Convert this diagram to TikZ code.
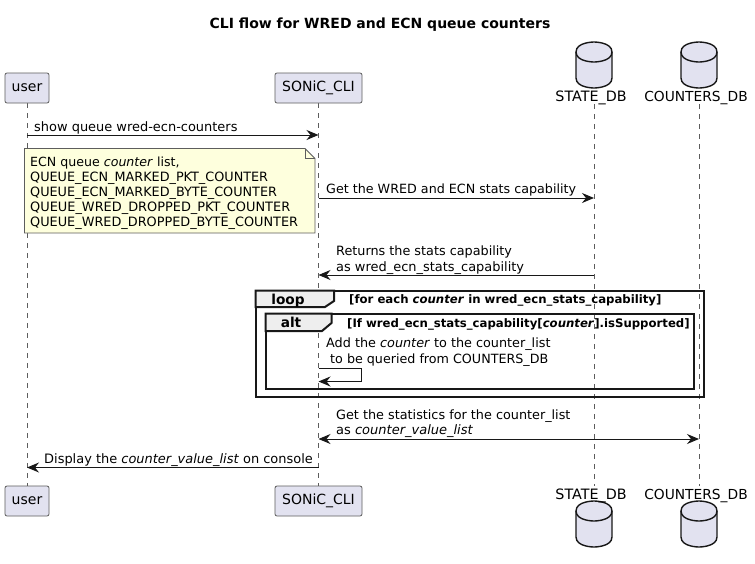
\documentclass[tikz,border=0pt]{standalone}
\usepackage{fontspec}
\setmainfont{DejaVu Sans}
\usetikzlibrary{arrows.meta}
\definecolor{pbox}{HTML}{E2E2F0}
\definecolor{pline}{HTML}{181818}
\definecolor{pnote}{HTML}{FEFFDD}
\definecolor{pgroup}{HTML}{EEEEEE}
\tikzset{
  fs/.style={font=\fontsize{#1}{15}\selectfont},
  actorbox/.style={draw=pline!70,line width=.8pt,fill=pbox,rounded corners=2pt,minimum height=30pt,inner sep=0pt,fs=14},
  dbshape/.style={draw=pline,line width=1.4pt,fill=pbox},
  dblabel/.style={inner sep=0pt,anchor=base},
  lifeline/.style={draw=pline!70,line width=.6pt,dash pattern=on 5pt off 5pt},
  msg/.style={draw=pline,line width=1pt,-{Stealth[length=12pt,width=10pt,inset=4pt]}},
  msgboth/.style={draw=pline,line width=1pt,{Stealth[length=12pt,width=10pt,inset=4pt]}-{Stealth[length=12pt,width=10pt,inset=4pt]}},
  msgtext/.style={inner sep=0pt,anchor=base west,fs=12.85},
  frameline/.style={draw=pline,line width=2pt},
  framehead/.style={draw=pline,line width=2pt,fill=pgroup},
  framelabel/.style={inner sep=0pt,anchor=base,font=\fontsize{13.7}{15}\selectfont\bfseries},
  guard/.style={inner sep=0pt,anchor=base west,font=\fontsize{11.7}{13}\selectfont\bfseries},
}
\newcommand{\dbicon}[2]{% x-left, y-top
  \fill[pbox] (#1,#2+10) .. controls (#1,#2) and (#1+18,#2) .. (#1+18,#2)
     .. controls (#1+18,#2) and (#1+36,#2) .. (#1+36,#2+10) -- (#1+36,#2+36)
     .. controls (#1+36,#2+46) and (#1+18,#2+46) .. (#1+18,#2+46)
     .. controls (#1+18,#2+46) and (#1,#2+46) .. (#1,#2+36) -- cycle;
  \draw[dbshape,fill=none] (#1,#2+10) .. controls (#1,#2) and (#1+18,#2) .. (#1+18,#2)
     .. controls (#1+18,#2) and (#1+36,#2) .. (#1+36,#2+10) -- (#1+36,#2+36)
     .. controls (#1+36,#2+46) and (#1+18,#2+46) .. (#1+18,#2+46)
     .. controls (#1+18,#2+46) and (#1,#2+46) .. (#1,#2+36) -- cycle;
  \draw[dbshape,fill=none] (#1,#2+10) .. controls (#1,#2+20) and (#1+18,#2+20) .. (#1+18,#2+20)
     .. controls (#1+18,#2+20) and (#1+36,#2+20) .. (#1+36,#2+10);
}
\begin{document}
\begin{tikzpicture}[x=1pt,y=-1pt]
\useasboundingbox (0,0) rectangle (755,563);
\fill[white] (0,0) rectangle (755,563);

\node[inner sep=0pt,font=\fontsize{14}{16}\selectfont\bfseries,anchor=base] (title) at (380,28) {CLI flow for WRED and ECN queue counters};

% lifelines
\coordinate (userT) at (27,103);
\coordinate (userB) at (27,486);
\coordinate (cliT) at (318.5,103);
\coordinate (cliB) at (318.5,486);
\coordinate (stateT) at (594,104);
\coordinate (stateB) at (594,486);
\coordinate (cntT) at (699,104);
\coordinate (cntB) at (699,486);
\draw[lifeline] (userT) -- (userB);
\draw[lifeline] (cliT) -- (cliB);
\draw[lifeline] (stateT) -- (stateB);
\draw[lifeline] (cntT) -- (cntB);

% participants
\node[actorbox,minimum width=44pt] (userTop) at (27,88) {user};
\node[actorbox,minimum width=87pt] (cliTop) at (318.5,88) {SONiC\_CLI};
\node[actorbox,minimum width=44pt] (userBot) at (27,501) {user};
\node[actorbox,minimum width=87pt] (cliBot) at (318.5,501) {SONiC\_CLI};
\dbicon{576}{42}
\dbicon{681}{42}
\dbicon{576}{501}
\dbicon{681}{501}
\node[dblabel,fs=14.3] (stateTop) at (591,101) {STATE\_DB};
\node[dblabel,fs=13.8] (cntTop) at (696,101) {COUNTERS\_DB};
\node[dblabel,fs=14.3] (stateBot) at (591,499) {STATE\_DB};
\node[dblabel,fs=13.8] (cntBot) at (696,499) {COUNTERS\_DB};

% message 1
\coordinate (m1a) at (27,135);
\coordinate (m1b) at (318.5,135);
\draw[msg] (m1a) -- (m1b);
\node[msgtext,fs=12.95] (m1t) at (34,131) {show queue wred-ecn-counters};

% note
\draw[draw=pline!70,line width=.8pt,fill=pnote] (24.5,148.5) -- (305,148.5) -- (315,158.5) -- (315,233) -- (24.5,233) -- cycle;
\draw[draw=pline!70,line width=.8pt] (305,148.5) -- (305,158.5) -- (315,158.5);
\node[msgtext,fs=12.6] (n1) at (30,166) {ECN queue \textit{counter} list,};
\node[msgtext,fs=12.8] (n2) at (30,181) {QUEUE\_ECN\_MARKED\_PKT\_COUNTER};
\node[msgtext,fs=12.8] (n3) at (30,196) {QUEUE\_ECN\_MARKED\_BYTE\_COUNTER};
\node[msgtext,fs=12.9] (n4) at (30,211) {QUEUE\_WRED\_DROPPED\_PKT\_COUNTER};
\node[msgtext,fs=12.85] (n5) at (30,226) {QUEUE\_WRED\_DROPPED\_BYTE\_COUNTER};

% message 2
\coordinate (m2a) at (318.5,198);
\coordinate (m2b) at (594,198);
\draw[msg] (m2a) -- (m2b);
\node[msgtext,fs=12.7] (m2t) at (326,193) {Get the WRED and ECN stats capability};

% message 3
\coordinate (m3a) at (594,275);
\coordinate (m3b) at (318.5,275);
\draw[msg] (m3a) -- (m3b);
\node[msgtext,fs=12.8] (m3t1) at (336,255) {Returns the stats capability};
\node[msgtext,fs=12.95] (m3t2) at (336,271) {as wred\_ecn\_stats\_capability};

% loop frame
\draw[frameline] (255.5,290.5) rectangle (703.5,396.5);
\draw[framehead] (255.5,290.5) -- (334,290.5) -- (334,301) -- (325,307) -- (255.5,307) -- cycle;
\node[framelabel] (loopl) at (288,304) {loop};
\node[guard] (loopg) at (349,303) {[for each \textit{counter} in wred\_ecn\_stats\_capability]};

% alt frame
\draw[frameline] (265.5,313.5) rectangle (693.5,388.5);
\draw[framehead] (265.5,313.5) -- (331.5,313.5) -- (331.5,323) -- (322,331) -- (265.5,331) -- cycle;
\node[framelabel] (altl) at (291,327) {alt};
\node[guard] (altg) at (347,327) {[If wred\_ecn\_stats\_capability[\textit{counter}].isSupported]};

% self message
\node[msgtext,fs=12.8] (s1) at (326,347) {Add the \textit{counter} to the counter\_list};
\node[msgtext,fs=12.7] (s2) at (326,363) {\ to be queried from COUNTERS\_DB};
\coordinate (sa) at (318.5,368.5);
\coordinate (sb) at (361.5,368.5);
\coordinate (sc) at (361.5,381.5);
\coordinate (sd) at (318.5,381.5);
\draw[msg] (sa) -- (sb) -- (sc) -- (sd);

% message 4
\coordinate (m4a) at (318.5,439);
\coordinate (m4b) at (699,439);
\draw[msgboth] (m4a) -- (m4b);
\node[msgtext,fs=12.8] (m4t1) at (336,419) {Get the statistics for the counter\_list};
\node[msgtext,fs=13] (m4t2) at (336,434.5) {as \textit{counter\_value\_list}};

% message 5
\coordinate (m5a) at (318.5,467.5);
\coordinate (m5b) at (27,467.5);
\draw[msg] (m5a) -- (m5b);
\node[msgtext,fs=12.95] (m5t) at (44,463) {Display the \textit{counter\_value\_list} on console};
\end{tikzpicture}
\end{document}
